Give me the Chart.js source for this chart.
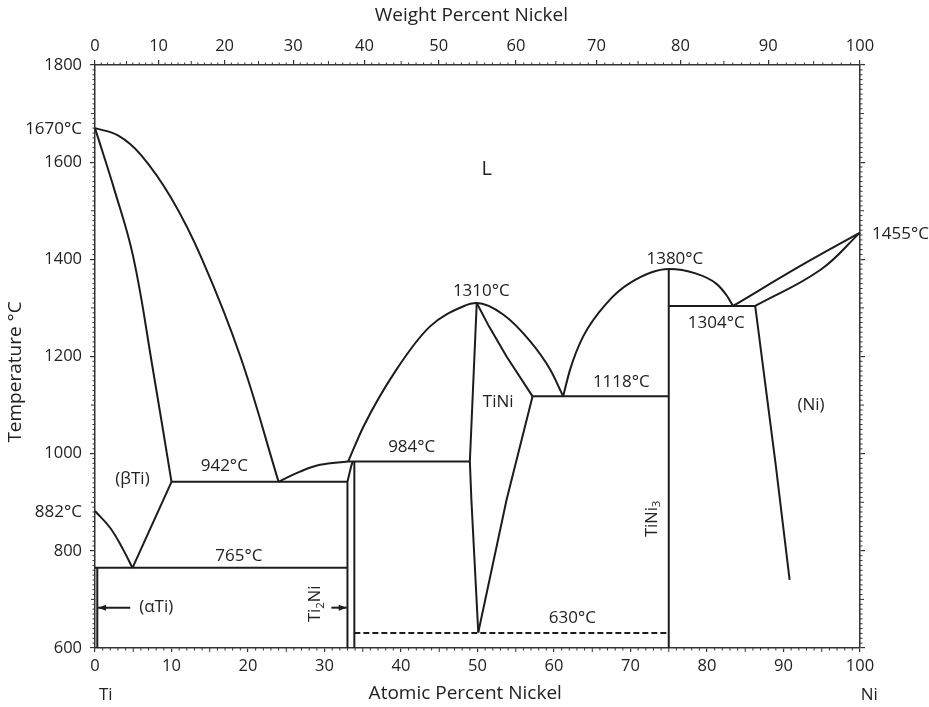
<!DOCTYPE html>
<html>
<head>
<meta charset="utf-8">
<script src="https://cdn.jsdelivr.net/npm/chart.js@4.4.0/dist/chart.umd.min.js"></script>
<style>
  html, body { margin: 0; padding: 0; background: #fff; }
  canvas { display: block; }
</style>
</head>
<body>
<canvas id="phase" width="929" height="707"></canvas>
<script>
// Ti-Ni binary phase diagram: temperature vs atomic percent nickel
const atomicTicks = [0, 10, 20, 30, 40, 50, 60, 70, 80, 90, 100];
const tempTicks = [600, 800, 1000, 1200, 1400, 1600, 1800];
const weightTicks = [0, 10, 20, 30, 40, 50, 60, 70, 80, 90, 100];
const massTi = 47.87;
const massNi = 58.69;

// boundary curves as [at% Ni, °C]
const tiLiquidus = [[0, 1670], [3, 1655], [6, 1615], [10, 1525], [14, 1400], [19, 1200], [24.0, 942]];
const tiSolidus = [[0, 1670], [2.5, 1545], [5.0, 1405], [7.5, 1180], [10.0, 942]];
const betaTransus = [[0, 882], [2.0, 847], [3.7, 802], [4.9, 765]];
const betaSolvus = [[4.9, 765], [10.0, 942]];
const alphaLimit = [[0.3, 765], [0.3, 600]];
const eutectic942 = [[10.0, 942], [33.0, 942]];
const eutectoid765 = [[0, 765], [33.0, 765]];
const ti2NiLiquidus = [[24.0, 942], [26.8, 963], [29.4, 977], [33.1, 984]];
const ti2NiLeft = [[33.0, 600], [33.0, 942], [33.5, 975], [33.7, 984]];
const ti2NiRight = [[33.9, 600], [33.9, 984]];
const peritectic984 = [[33.1, 984], [49.0, 984]];
const tiNiLiquidus = [[33.1, 984], [35.1, 1056], [39.4, 1173], [43.8, 1262], [48.1, 1303], [49.9, 1310], [53.4, 1286], [56.9, 1231], [59.5, 1173], [61.2, 1118]];
const tiNiLeft = [[49.9, 1310], [49.0, 984], [49.2, 905], [50.1, 632]];
const tiNiRightUpper = [[49.9, 1310], [51.5, 1262], [53.8, 1200], [57.2, 1118]];
const tiNiRightLower = [[50.1, 632], [53.8, 905], [57.2, 1118]];
const eutectic1118 = [[57.2, 1118], [75, 1118]];
const tiNi3Liquidus = [[61.2, 1118], [62.1, 1173], [63.8, 1241], [66.9, 1310], [69.9, 1351], [75, 1380], [78.5, 1371], [81.2, 1350], [82.6, 1325], [83.4, 1304]];
const tiNi3Line = [[75, 600], [75, 1380]];
const eutectic1304 = [[75, 1304], [86.3, 1304]];
const niLiquidus = [[83.4, 1304], [92.6, 1390], [100, 1455]];
const niSolidus = [[86.3, 1304], [94.8, 1378], [100, 1455]];
const niSolvus = [[86.3, 1304], [89.0, 975], [90.8, 740]];
const ordering630 = [[33.9, 631], [75, 631]];

const domeCurves = [tiNiLiquidus, tiNi3Liquidus];
const smoothCurves = [tiLiquidus, tiSolidus, betaTransus, ti2NiLiquidus, niLiquidus, niSolidus];
const straightLines = [betaSolvus, alphaLimit, eutectic942, eutectoid765, ti2NiLeft, ti2NiRight, peritectic984,
  tiNiLeft, tiNiRightUpper, tiNiRightLower, eutectic1118, tiNi3Line, eutectic1304, niSolvus];

// region names and temperature notes, placed in data coordinates
const notes = [
  ['L', 51.2, 1585, 20],
  ['1310°C', 50.5, 1334], ['984°C', 41.4, 1013], ['TiNi', 52.7, 1106],
  ['1118°C', 68.8, 1148], ['1380°C', 75.8, 1401], ['1304°C', 81.2, 1269],
  ['(Ni)', 93.6, 1099], ['942°C', 16.9, 974], ['(βTi)', 4.9, 948],
  ['765°C', 18.8, 789], ['(αTi)', 8.0, 684], ['630°C', 62.4, 662]
];

const FONT = '"Open Sans", "DejaVu Sans", sans-serif';
const INK = '#1c1c1c';

function wtToAt(w) {
  const ni = w / massNi, ti = (100 - w) / massTi;
  return 100 * ni / (ni + ti);
}

function toPoints(arr) {
  return arr.map(p => ({ x: p[0], y: p[1] }));
}

const lineStyle = { showLine: true, pointRadius: 0, borderColor: INK, borderWidth: 2, clip: 4 };
const datasets = [];
domeCurves.forEach(c => datasets.push({ ...lineStyle, data: toPoints(c), cubicInterpolationMode: 'monotone' }));
smoothCurves.forEach(c => datasets.push({ ...lineStyle, data: toPoints(c), tension: 0.4 }));
straightLines.forEach(c => datasets.push({ ...lineStyle, data: toPoints(c) }));
datasets.push({ ...lineStyle, data: toPoints(ordering630), borderDash: [6, 3] });

function drawSubText(ctx, parts, cx, cy) {
  // parts: [text, isSubscript]
  const big = '16.5px ' + FONT, small = '11.5px ' + FONT;
  let total = 0;
  parts.forEach(([t, sub]) => { ctx.font = sub ? small : big; total += ctx.measureText(t).width; });
  let x = cx - total / 2;
  ctx.textAlign = 'left';
  parts.forEach(([t, sub]) => {
    ctx.font = sub ? small : big;
    ctx.fillText(t, x, sub ? cy + 5 : cy);
    x += ctx.measureText(t).width;
  });
}

function arrow(ctx, x1, y1, x2, y2) {
  ctx.beginPath();
  ctx.moveTo(x1, y1);
  ctx.lineTo(x2, y2);
  ctx.stroke();
  const ang = Math.atan2(y2 - y1, x2 - x1);
  ctx.beginPath();
  ctx.moveTo(x2, y2);
  ctx.lineTo(x2 - 8 * Math.cos(ang) + 3 * Math.sin(ang), y2 - 8 * Math.sin(ang) - 3 * Math.cos(ang));
  ctx.lineTo(x2 - 8 * Math.cos(ang) - 3 * Math.sin(ang), y2 - 8 * Math.sin(ang) + 3 * Math.cos(ang));
  ctx.closePath();
  ctx.fill();
}

const decorations = {
  id: 'decorations',
  afterDraw(chart) {
    const { ctx, chartArea: a } = chart;
    const x = chart.scales.x, y = chart.scales.y;
    ctx.save();

    // minor ticks on all four sides
    ctx.strokeStyle = '#333';
    ctx.lineWidth = 1;
    ctx.beginPath();
    for (let v = 1; v < 100; v++) {
      if (v % 10 === 0) continue;
      const len = v % 5 === 0 ? 4 : 2.5;
      const px = x.getPixelForValue(v);
      ctx.moveTo(px, a.bottom); ctx.lineTo(px, a.bottom + len);
      const pt = x.getPixelForValue(wtToAt(v));
      ctx.moveTo(pt, a.top); ctx.lineTo(pt, a.top - len);
    }
    for (let t = 610; t < 1800; t += 10) {
      if (t % 200 === 0) continue;
      const len = t % 100 === 0 ? 4 : 2.5;
      const py = y.getPixelForValue(t);
      ctx.moveTo(a.left, py); ctx.lineTo(a.left - len, py);
      ctx.moveTo(a.right, py); ctx.lineTo(a.right + len, py);
    }
    ctx.stroke();

    ctx.fillStyle = '#222';
    ctx.textBaseline = 'middle';
    ctx.textAlign = 'center';
    notes.forEach(([t, vx, vy, size]) => {
      ctx.font = (size || 17) + 'px ' + FONT;
      ctx.fillText(t, x.getPixelForValue(vx), y.getPixelForValue(vy));
    });

    // melting and transformation points on the pure-element sides
    ctx.font = '17px ' + FONT;
    ctx.textAlign = 'right';
    ctx.fillText('1670°C', a.left - 13, y.getPixelForValue(1670) + 1);
    ctx.fillText('882°C', a.left - 13, y.getPixelForValue(882) + 1);
    ctx.textAlign = 'left';
    ctx.fillText('1455°C', a.right + 12, y.getPixelForValue(1455) + 2);

    // axis titles and element names
    ctx.textAlign = 'center';
    ctx.font = '19px ' + FONT;
    ctx.fillText('Weight Percent Nickel', x.getPixelForValue(49.2), 16);
    ctx.fillText('Atomic Percent Nickel', x.getPixelForValue(48.4), 694);
    ctx.font = '17px ' + FONT;
    ctx.fillText('Ti', x.getPixelForValue(1.4), 695);
    ctx.fillText('Ni', x.getPixelForValue(101.2), 695);
    ctx.save();
    ctx.translate(16, 372);
    ctx.rotate(-Math.PI / 2);
    ctx.font = '19px ' + FONT;
    ctx.fillText('Temperature °C', 0, 0);
    ctx.restore();

    // compound labels written sideways
    ctx.save();
    ctx.translate(x.getPixelForValue(28.8), y.getPixelForValue(691));
    ctx.rotate(-Math.PI / 2);
    drawSubText(ctx, [['Ti', false], ['2', true], ['Ni', false]], 0, 0);
    ctx.restore();
    ctx.save();
    ctx.translate(x.getPixelForValue(72.8), y.getPixelForValue(866));
    ctx.rotate(-Math.PI / 2);
    drawSubText(ctx, [['TiNi', false], ['3', true]], 0, 0);
    ctx.restore();

    // arrows to the narrow (αTi) and Ti2Ni fields
    ctx.strokeStyle = INK;
    ctx.fillStyle = INK;
    ctx.lineWidth = 2;
    const ay = y.getPixelForValue(683);
    arrow(ctx, x.getPixelForValue(4.6), ay, x.getPixelForValue(0.4), ay);
    arrow(ctx, x.getPixelForValue(30.9), ay, x.getPixelForValue(32.9), ay);

    ctx.restore();
  }
};

const axisGrid = { drawOnChartArea: false, color: '#333', lineWidth: 1.2 };
const axisBorder = { color: '#333', width: 1.5 };
const tickFont = { family: FONT, size: 16.5 };

new Chart(document.getElementById('phase'), {
  type: 'scatter',
  data: { datasets },
  options: {
    responsive: false,
    animation: false,
    devicePixelRatio: 1,
    layout: { padding: 0 },
    plugins: { legend: { display: false }, tooltip: { enabled: false } },
    scales: {
      x: {
        type: 'linear', position: 'bottom', min: 0, max: 100,
        afterBuildTicks: s => { s.ticks = atomicTicks.map(v => ({ value: v })); },
        afterFit: s => { s.height = 59; },
        ticks: { color: '#222', font: tickFont, padding: 4, maxRotation: 0, callback: v => String(v) },
        grid: { ...axisGrid, tickLength: 4 },
        border: axisBorder
      },
      xTop: {
        type: 'linear', position: 'top', min: 0, max: 100,
        afterBuildTicks: s => { s.ticks = weightTicks.map(w => ({ value: wtToAt(w) })); },
        afterFit: s => { s.height = 65; },
        ticks: { color: '#222', font: tickFont, padding: 4, maxRotation: 0, callback: (v, i) => String(weightTicks[i]) },
        grid: { ...axisGrid, tickLength: 5 },
        border: axisBorder
      },
      y: {
        type: 'linear', position: 'left', min: 600, max: 1800,
        afterBuildTicks: s => { s.ticks = tempTicks.map(v => ({ value: v })); },
        afterFit: s => { s.width = 95; },
        ticks: { color: '#222', font: tickFont, padding: 8, callback: v => String(v) },
        grid: { ...axisGrid, tickLength: 5 },
        border: axisBorder
      },
      yRight: {
        type: 'linear', position: 'right', min: 600, max: 1800,
        afterBuildTicks: s => { s.ticks = tempTicks.map(v => ({ value: v })); },
        afterFit: s => { s.width = 69; },
        ticks: { display: false },
        grid: { ...axisGrid, tickLength: 5 },
        border: axisBorder
      }
    }
  },
  plugins: [decorations]
});
</script>
</body>
</html>
